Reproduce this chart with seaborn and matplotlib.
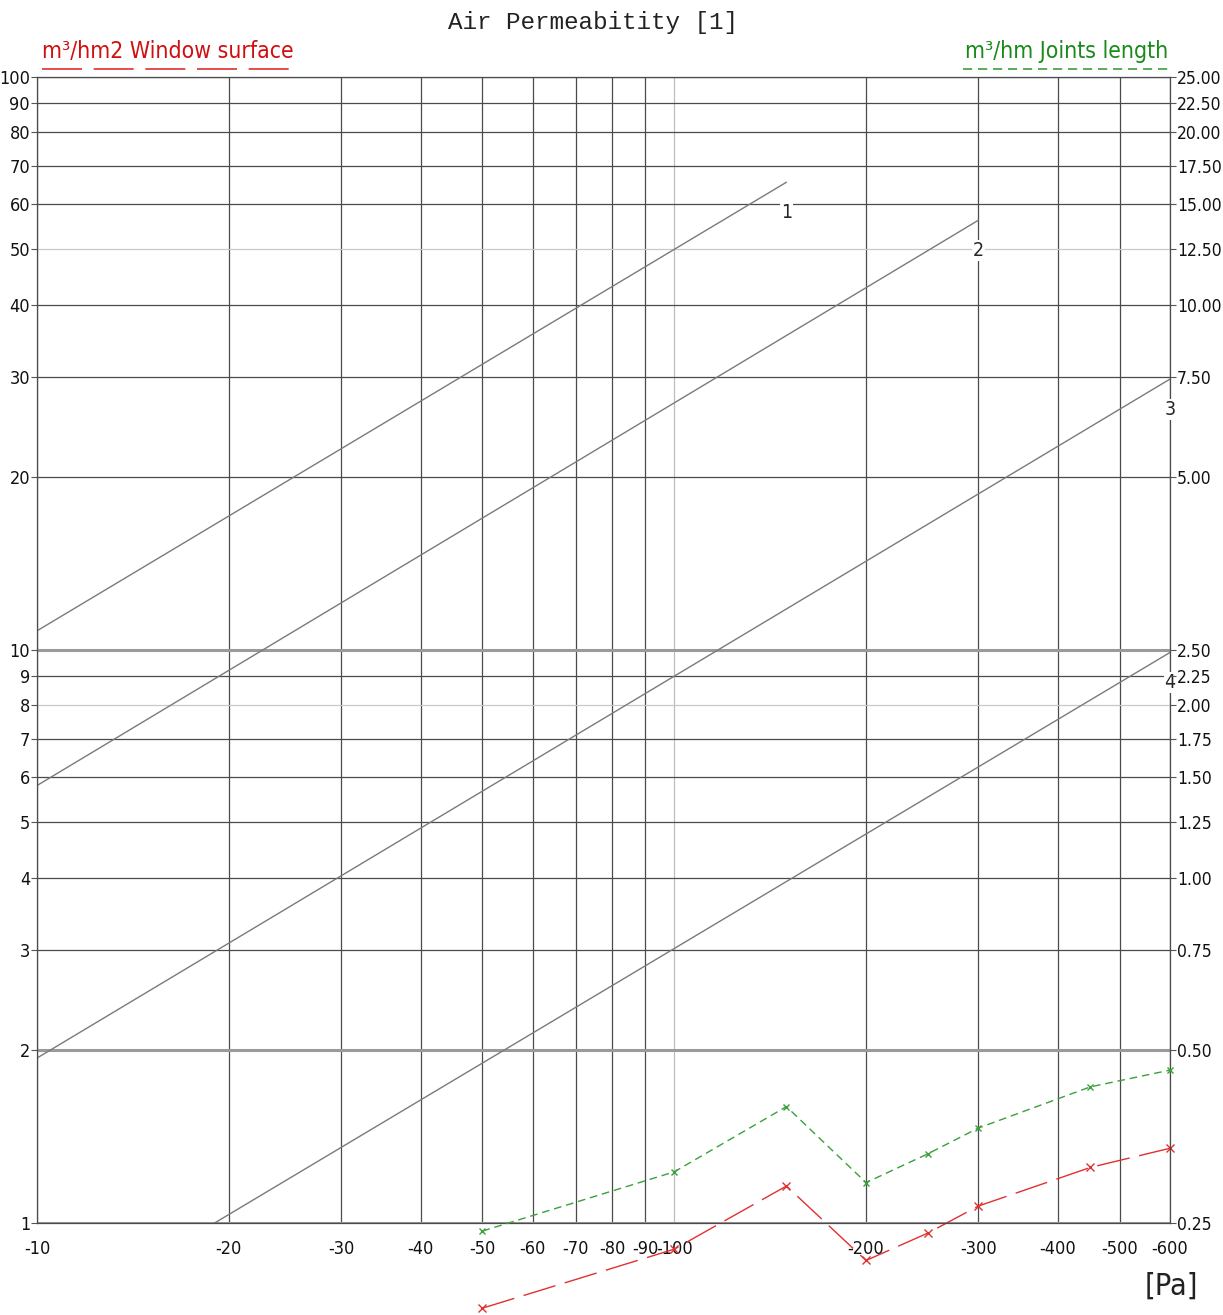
import numpy as np
import pandas as pd
import matplotlib
matplotlib.use("Agg")
import matplotlib.pyplot as plt
from matplotlib.lines import Line2D
import seaborn as sns

# pressure steps [Pa] (shown as negative on the axis)
pressure = [50, 100, 150, 200, 250, 300, 450, 600]
# m3/hm2 window surface (left axis)
window_surface = [0.71, 0.90, 1.16, 0.86, 0.96, 1.07, 1.25, 1.35]
# m3/hm joints length (right axis)
joints_length = [0.242, 0.307, 0.399, 0.294, 0.330, 0.366, 0.432, 0.462]

# class reference lines, end points
class_names = ["1", "2", "3", "4"]
class_x = [(10, 150), (10, 300), (10, 600), (19, 600)]
class_y = [(10.8, 65.5), (5.8, 56.2), (1.94, 29.7), (1.0, 9.9)]

x_ticks = [10, 20, 30, 40, 50, 60, 70, 80, 90, 100, 200, 300, 400, 500, 600]
y_ticks = [1, 2, 3, 4, 5, 6, 7, 8, 9, 10, 20, 30, 40, 50, 60, 70, 80, 90, 100]
y2_ticks = [0.25, 0.5, 0.75, 1.0, 1.25, 1.5, 1.75, 2.0, 2.25, 2.5,
            5.0, 7.5, 10.0, 12.5, 15.0, 17.5, 20.0, 22.5, 25.0]

RED_DASH = (0, (24, 7))
GREEN_DASH = (0, (5.5, 3.5))

sns.set_style("white")
plt.rcParams["font.family"] = ["DejaVu Sans"]
plt.rcParams["font.stretch"] = "condensed"

fig = plt.figure(figsize=(12.23, 13.15), dpi=100)
ax = fig.add_axes([0.0303, 0.0700, 0.9264, 0.8715])
ax.set_xscale("log")
ax.set_yscale("log")
ax.set_xlim(10, 600)
ax.set_ylim(1, 100)

ax.set_xticks(x_ticks)
ax.set_xticklabels(["-%d" % v for v in x_ticks])
ax.set_yticks(y_ticks)
ax.set_yticklabels(["%d" % v for v in y_ticks])
ax.minorticks_off()
ax.tick_params(axis="both", direction="out", length=4, width=0.8,
               color="#555555", labelsize=13, pad=1, labelcolor="#111111")
ax.tick_params(axis="x", pad=8)

ax.grid(True, which="major", color="#4a4a4a", lw=0.9)
for line, v in zip(ax.get_ygridlines(), y_ticks):
    if v == 8 or v == 50:
        line.set_color("#c8c8c8")
    elif v in (1, 2, 10):
        line.set_color("#9a9a9a")
        line.set_linewidth(2.2)
for line, v in zip(ax.get_xgridlines(), x_ticks):
    if v == 100:
        line.set_color("#bdbdbd")
for sp in ax.spines.values():
    sp.set_color("#4a4a4a")
    sp.set_linewidth(0.9)

# classification lines
for name, xs, ys in zip(class_names, class_x, class_y):
    sns.lineplot(x=list(xs), y=list(ys), ax=ax, color="#7a7a7a", lw=1.0)
    ax.text(xs[1], ys[1] * 0.92, name, ha="center", va="top", fontsize=14,
            bbox=dict(facecolor="white", edgecolor="none", pad=0.5), zorder=4)

# measured window surface
df_w = pd.DataFrame({"p": pressure, "q": window_surface})
sns.lineplot(data=df_w, x="p", y="q", ax=ax, color="#e03030", lw=1.0,
             marker="x", markersize=6, markeredgewidth=1.0,
             markeredgecolor="#e03030", linestyle=RED_DASH,
             sort=False, estimator=None, clip_on=False)

# joints length on the right axis
ax2 = ax.twinx()
ax2.set_yscale("log")
ax2.set_ylim(0.25, 25)
df_j = pd.DataFrame({"p": pressure, "q": joints_length})
sns.lineplot(data=df_j, x="p", y="q", ax=ax2, color="#3aa03a", lw=1.0,
             marker="x", markersize=5, markeredgewidth=1.0,
             markeredgecolor="#3aa03a", linestyle=GREEN_DASH,
             sort=False, estimator=None, clip_on=False)
ax2.set_yticks(y2_ticks)
ax2.set_yticklabels(["%.2f" % v for v in y2_ticks])
ax2.minorticks_off()
ax2.tick_params(axis="y", direction="out", length=4, width=0.8,
                color="#555555", labelsize=12.5, pad=1, labelcolor="#111111")
ax2.set_xlim(10, 600)
ax2.set_ylabel("")
ax.set_xlabel("")
ax.set_ylabel("")
for sp in ax2.spines.values():
    sp.set_visible(False)

# titles and axis captions
fig.text(0.485, 0.983, "Air Permeabitity [1]", ha="center", va="center",
         fontsize=17.5, family=["Liberation Mono", "DejaVu Sans Mono"],
         stretch="normal", color="#222222")
fig.text(0.0345, 0.961, "m³/hm2 Window surface", ha="left", va="center",
         fontsize=16.5, color="#d01010")
fig.add_artist(Line2D([0.0345, 0.238], [0.9475, 0.9475], transform=fig.transFigure,
                      color="#e03030", lw=1.2, linestyle=RED_DASH))
fig.text(0.9555, 0.961, "m³/hm Joints length", ha="right", va="center",
         fontsize=16.5, color="#1a8a1a")
fig.add_artist(Line2D([0.787, 0.955], [0.9475, 0.9475], transform=fig.transFigure,
                      color="#3aa03a", lw=1.2, linestyle=GREEN_DASH))
fig.text(0.958, 0.022, "[Pa]", ha="center", va="center", fontsize=22, color="#222222")

fig.savefig("out.png", dpi=100)
